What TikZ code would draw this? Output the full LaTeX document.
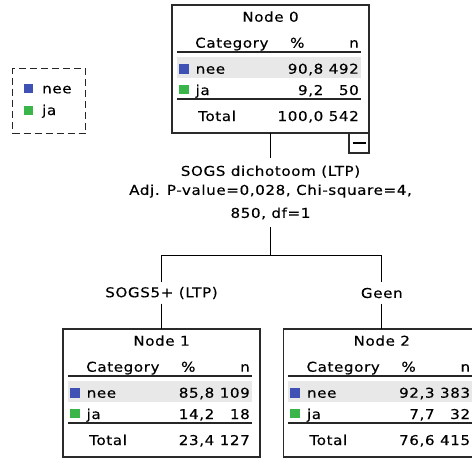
\documentclass[tikz,border=0pt]{standalone}
\usepackage{fontspec}
\setmainfont{DejaVu Sans}[FakeStretch=1.12,LetterSpace=4.5,FakeBold=0.3]
\usetikzlibrary{calc}
\definecolor{neeblue}{HTML}{3F51B5}
\definecolor{jagreen}{HTML}{3AB54A}
\definecolor{rowshade}{HTML}{E8E8E8}
\definecolor{boxline}{HTML}{2A2A2A}
\begin{document}
\begin{tikzpicture}[x=1pt,y=-1pt,
  txt/.style={inner sep=0pt, font=\fontsize{13.5}{15}\selectfont, text=black},
  cbox/.style={draw=boxline, line width=1.3pt, minimum width=197pt, minimum height=128pt, inner sep=0pt, outer sep=0pt, anchor=north west},
  tabrule/.style={draw=black!85, line width=1.4pt},
  conn/.style={draw=black, line width=1.2pt},
  sq/.style={inner sep=0pt, minimum width=10pt, minimum height=9.5pt, anchor=north west},
  lsq/.style={inner sep=0pt, minimum width=9pt, minimum height=8.5pt, anchor=north west}]
\path[use as bounding box] (0,0) rectangle (472,458);
\clip (0,0) rectangle (472,458);
% legend
\node[draw=black!85, dash pattern=on 7pt off 4pt, line width=1.2pt, minimum width=73pt, minimum height=65pt, anchor=north west, inner sep=0pt] (legend) at (12,68) {};
\node[lsq, fill=neeblue] (legnee) at (24,84) {};
\node[lsq, fill=jagreen] (legja) at (24,106) {};
\node[txt, anchor=base west] (legneet) at (42,93.3) {nee};
\node[txt, anchor=base west] (legjat) at (42,115) {ja};
% tables
\foreach \nm/\lx/\ty/\ttl/\pa/\na/\pb/\nb/\pt/\nt in {
  n0/172/5/{Node 0}/{90,8}/492/{9,2}/50/{100,0}/542,
  n1/63/329/{Node 1}/{85,8}/109/{14,2}/18/{23,4}/127,
  n2/283.3/329/{Node 2}/{92,3}/383/{7,7}/32/{76,6}/415}{
  \begin{scope}[shift={(\lx,\ty)}]
    \fill[rowshade] (5,52) rectangle (189,73);
    \node[sq, fill=neeblue] (\nm-sqa) at (6.5,59) {};
    \node[sq, fill=jagreen] (\nm-sqb) at (6.5,79.5) {};
    \draw[tabrule] (5,47) -- (189,47);
    \draw[tabrule] (5,94) -- (189,94);
    \node[txt, anchor=base] (\nm-title) at (98.5,16.7) {\ttl};
    \node[txt, anchor=base west] (\nm-hc) at (23,42.7) {Category};
    \node[txt, anchor=base] (\nm-hp) at (125.3,42.7) {\%};
    \node[txt, anchor=base east] (\nm-hn) at (187,42.7) {n};
    \node[txt, anchor=base west] (\nm-ca) at (23.5,68.7) {nee};
    \node[txt, anchor=base east] (\nm-pa) at (151.5,68.7) {\pa};
    \node[txt, anchor=base east] (\nm-na) at (187,68.7) {\na};
    \node[txt, anchor=base west] (\nm-cb) at (23.5,90) {ja};
    \node[txt, anchor=base east] (\nm-pb) at (151.5,90) {\pb};
    \node[txt, anchor=base east] (\nm-nb) at (187,90) {\nb};
    \node[txt, anchor=base west] (\nm-ct) at (26,116) {Total};
    \node[txt, anchor=base east] (\nm-pt) at (151.5,116) {\pt};
    \node[txt, anchor=base east] (\nm-nt) at (187,116) {\nt};
    \node[cbox] (\nm) at (0,0) {};
  \end{scope}}
% collapse box
\node[draw=boxline, line width=1.3pt, minimum width=20pt, minimum height=20pt, inner sep=0pt, outer sep=0pt, anchor=north east] (n0minus) at (n0.south east) {};
\draw[line width=1.2pt] ($(n0minus.center)+(-6.5,0)$) -- ($(n0minus.center)+(6.5,0)$);
% split
\path (n0.south) ++(0,59.5) node[txt, align=center, minimum height=69pt, font=\fontsize{13.5}{19}\selectfont] (split) {SOGS dichotoom (LTP)\\Adj. P-value=0,028, Chi-square=4,\\[4pt]850, df=1};
\path (split.south) ++(0,28) coordinate (fork);
\path (n1.north) ++(0,-36) node[txt, minimum height=21pt] (lab1) {SOGS5+ (LTP)};
\path (n2.north) ++(0,-36) node[txt, minimum height=21pt] (lab2) {Geen};
\draw[conn] (n0.south) -- (split.north);
\draw[conn] (split.south) -- (fork);
\draw[conn] (lab1.north) |- (fork) -| (lab2.north);
\draw[conn] (lab1.south) -- (n1.north);
\draw[conn] (lab2.south) -- (n2.north);
\end{tikzpicture}
\end{document}
